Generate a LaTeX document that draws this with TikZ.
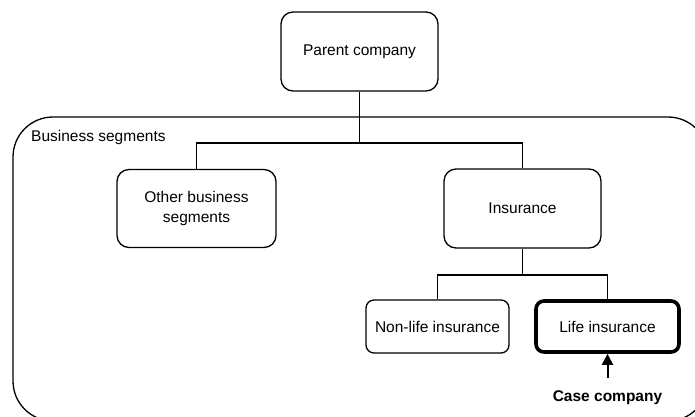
\documentclass[tikz,border=0pt]{standalone}
\usepackage{fontspec}
\setmainfont{Liberation Sans}
\usetikzlibrary{arrows.meta}
\begin{document}
\begin{tikzpicture}[x=1pt,y=-1pt,
  font=\fontsize{15.5}{20}\selectfont,
  unit/.style={draw, line width=1.3pt, rounded corners=12pt, align=center, inner sep=0pt},
  leaf/.style={draw, line width=1.3pt, rounded corners=8pt, align=center, inner sep=0pt},
  link/.style={line width=1.3pt}]
\useasboundingbox (0,0) rectangle (695,416);
\clip (0,0) rectangle (695,416);

% business segments container
\draw[line width=1.3pt, rounded corners=40pt] (13,117) rectangle (708,421);
\node[anchor=west, inner sep=0pt] (segs) at (31,137) {Business segments};

% organisation units
\node[unit, minimum width=157pt, minimum height=79pt] (parent) at (359.5,51.5) {Parent company};
\node[unit, minimum width=159pt, minimum height=78pt] (other) at (196.5,208.5) {Other business\\segments};
\node[unit, minimum width=157pt, minimum height=79pt] (ins) at (522.5,208.5) {Insurance};
\node[leaf, minimum width=143pt, minimum height=53pt] (nonlife) at (437.5,326.5) {Non-life insurance};
\node[leaf, line width=3.6pt, minimum width=143pt, minimum height=51pt] (life) at (607.5,326.5) {Life insurance};

% tree connectors
\draw[link] (parent.south) -- (359.5,143) -| (other.north);
\draw[link] (359.5,143) -| (ins.north);
\draw[link] (ins.south) -- (522.5,275) -| (nonlife.north);
\draw[link] (522.5,275) -| (life.north);

% case company marker
\node[inner sep=0pt, font=\fontsize{15.5}{18}\selectfont\bfseries] (case) at (607.5,398) {Case company};
\coordinate (casetop) at (607.5,378);
\draw[line width=2pt, -{Triangle[length=11pt, width=11pt]}] (casetop) -- (life.south);
\end{tikzpicture}
\end{document}
